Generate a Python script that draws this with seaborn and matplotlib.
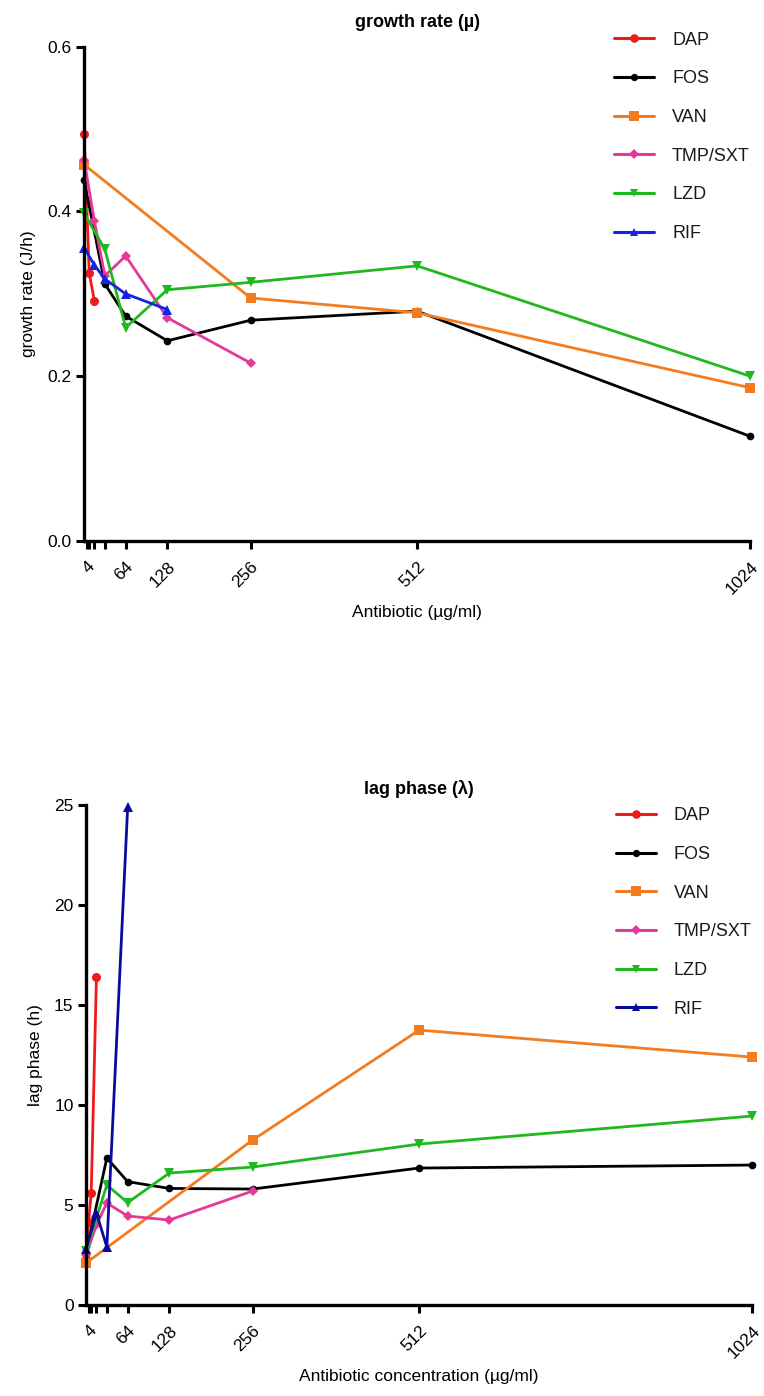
import numpy as np
import pandas as pd
import matplotlib
matplotlib.use("Agg")
import matplotlib.pyplot as plt
import seaborn as sns

# ---- data: antibiotic concentration (µg/ml) and fitted growth parameters ----
drugs = ["DAP", "FOS", "VAN", "TMP/SXT", "LZD", "RIF"]

# growth rate (µ)
dap_conc_mu = [0, 4, 8, 16]
dap_mu = [0.494, 0.410, 0.325, 0.291]
fos_conc_mu = [0, 32, 64, 128, 256, 512, 1024]
fos_mu = [0.438, 0.312, 0.273, 0.243, 0.268, 0.279, 0.127]
van_conc_mu = [0, 256, 512, 1024]
van_mu = [0.457, 0.295, 0.277, 0.186]
tmp_conc_mu = [0, 16, 32, 64, 128, 256]
tmp_mu = [0.463, 0.388, 0.322, 0.346, 0.271, 0.216]
lzd_conc_mu = [0, 32, 64, 128, 256, 512, 1024]
lzd_mu = [0.398, 0.354, 0.259, 0.305, 0.314, 0.334, 0.200]
rif_conc_mu = [0, 16, 32, 64, 128]
rif_mu = [0.356, 0.335, 0.318, 0.300, 0.281]

# lag phase (λ)
dap_conc_lag = [0, 4, 8, 16]
dap_lag = [2.3, 4.15, 5.6, 16.4]
fos_conc_lag = [0, 32, 64, 128, 256, 512, 1024]
fos_lag = [2.6, 7.35, 6.17, 5.83, 5.8, 6.85, 7.0]
van_conc_lag = [0, 256, 512, 1024]
van_lag = [2.1, 8.25, 13.75, 12.4]
tmp_conc_lag = [0, 16, 32, 64, 128, 256]
tmp_lag = [2.5, 4.0, 5.1, 4.45, 4.25, 5.7]
lzd_conc_lag = [0, 32, 64, 128, 256, 512, 1024]
lzd_lag = [2.7, 6.0, 5.12, 6.6, 6.9, 8.05, 9.45]
rif_conc_lag = [0, 16, 32, 64]
rif_lag = [2.8, 4.6, 2.9, 24.9]

tick_positions = [4, 8, 16, 32, 64, 128, 256, 512, 1024]
tick_labels = ["4", "", "", "", "64", "128", "256", "512", "1024"]


def frame(series):
    rows = []
    for drug, conc, vals in series:
        for c, v in zip(conc, vals):
            rows.append({"drug": drug, "conc": c, "value": v})
    return pd.DataFrame(rows)


mu_df = frame([
    ("DAP", dap_conc_mu, dap_mu),
    ("FOS", fos_conc_mu, fos_mu),
    ("VAN", van_conc_mu, van_mu),
    ("TMP/SXT", tmp_conc_mu, tmp_mu),
    ("LZD", lzd_conc_mu, lzd_mu),
    ("RIF", rif_conc_mu, rif_mu),
])
lag_df = frame([
    ("DAP", dap_conc_lag, dap_lag),
    ("FOS", fos_conc_lag, fos_lag),
    ("VAN", van_conc_lag, van_lag),
    ("TMP/SXT", tmp_conc_lag, tmp_lag),
    ("LZD", lzd_conc_lag, lzd_lag),
    ("RIF", rif_conc_lag, rif_lag),
])

sns.set_theme(style="ticks")
plt.rcParams["font.family"] = ["Liberation Sans", "DejaVu Sans"]
plt.rcParams["text.color"] = "black"
plt.rcParams["axes.labelcolor"] = "black"
plt.rcParams["xtick.color"] = "black"
plt.rcParams["ytick.color"] = "black"

markers = {"DAP": "o", "FOS": "o", "VAN": "s", "TMP/SXT": "D", "LZD": "v", "RIF": "^"}
sizes = {"DAP": 6.5, "FOS": 5.5, "VAN": 7, "TMP/SXT": 5, "LZD": 6.5, "RIF": 6.5}
palette_top = {"DAP": "#f01a1a", "FOS": "#000000", "VAN": "#f47c20",
               "TMP/SXT": "#e5399a", "LZD": "#1fb81f", "RIF": "#1424e6"}
palette_bottom = dict(palette_top, RIF="#0a0a9c")

fig = plt.figure(figsize=(7.64, 13.96), dpi=100)
ax_top = fig.add_axes([0.110, 0.6125, 0.872, 0.354])
ax_bot = fig.add_axes([0.1126, 0.0652, 0.872, 0.358])


def draw(ax, df, palette, ylim, yticks, yfmt, ylabel, xlabel, title, title_pad, leg_anchor):
    sns.lineplot(data=df, x="conc", y="value", hue="drug", style="drug",
                 hue_order=drugs, style_order=drugs, palette=palette,
                 markers=markers, dashes=False, errorbar=None, sort=False,
                 linewidth=2.0, markeredgewidth=0, ax=ax)
    # marker sizes per antibiotic; markers on the axes lines stay whole
    for line, drug in zip(ax.get_lines()[:len(drugs)], drugs):
        line.set_markersize(sizes[drug])
        line.set_clip_on(False)
    ax.set_xlim(0, 1024)
    ax.set_ylim(*ylim)
    ax.set_yticks(yticks)
    ax.set_yticklabels([yfmt.format(t) for t in yticks])
    ax.set_xticks(tick_positions)
    ax.set_xticklabels(tick_labels, rotation=45, ha="right", rotation_mode="anchor")
    ax.tick_params(axis="both", direction="out", length=6, width=2.2,
                   labelsize=12.5, color="black", labelcolor="black", pad=3)
    ax.tick_params(axis="x", pad=7)
    for side in ("left", "bottom"):
        ax.spines[side].set_linewidth(2.4)
        ax.spines[side].set_color("black")
    sns.despine(ax=ax)
    ax.set_xlabel(xlabel, fontsize=12.5, labelpad=6, color="black")
    ax.set_ylabel(ylabel, fontsize=12.5, labelpad=8, color="black")
    ax.set_title(title, fontsize=13, fontweight="bold", pad=title_pad, color="black")
    handles, labels = ax.get_legend_handles_labels()
    for h, d in zip(handles, labels):
        if d in sizes:
            h.set_markersize(sizes[d] * 0.95)
            h.set_linewidth(2.2)
    leg = ax.legend(handles, labels, loc="upper left", bbox_to_anchor=leg_anchor,
                    frameon=False, fontsize=13, handlelength=2.2,
                    labelspacing=1.2, handletextpad=1.0, borderaxespad=0)
    for t in leg.get_texts():
        t.set_color("#1a1a1a")


draw(ax_top, mu_df, palette_top, (0, 0.6), [0.0, 0.2, 0.4, 0.6], "{:.1f}",
     "growth rate (J/h)", "Antibiotic (µg/ml)", "growth rate (µ)", 14,
     (0.785, 1.045))
draw(ax_bot, lag_df, palette_bottom, (0, 25), [0, 5, 10, 15, 20, 25], "{:d}",
     "lag phase (h)", "Antibiotic concentration (µg/ml)", "lag phase (λ)", 8,
     (0.785, 1.01))

fig.savefig("out.png", dpi=100)
